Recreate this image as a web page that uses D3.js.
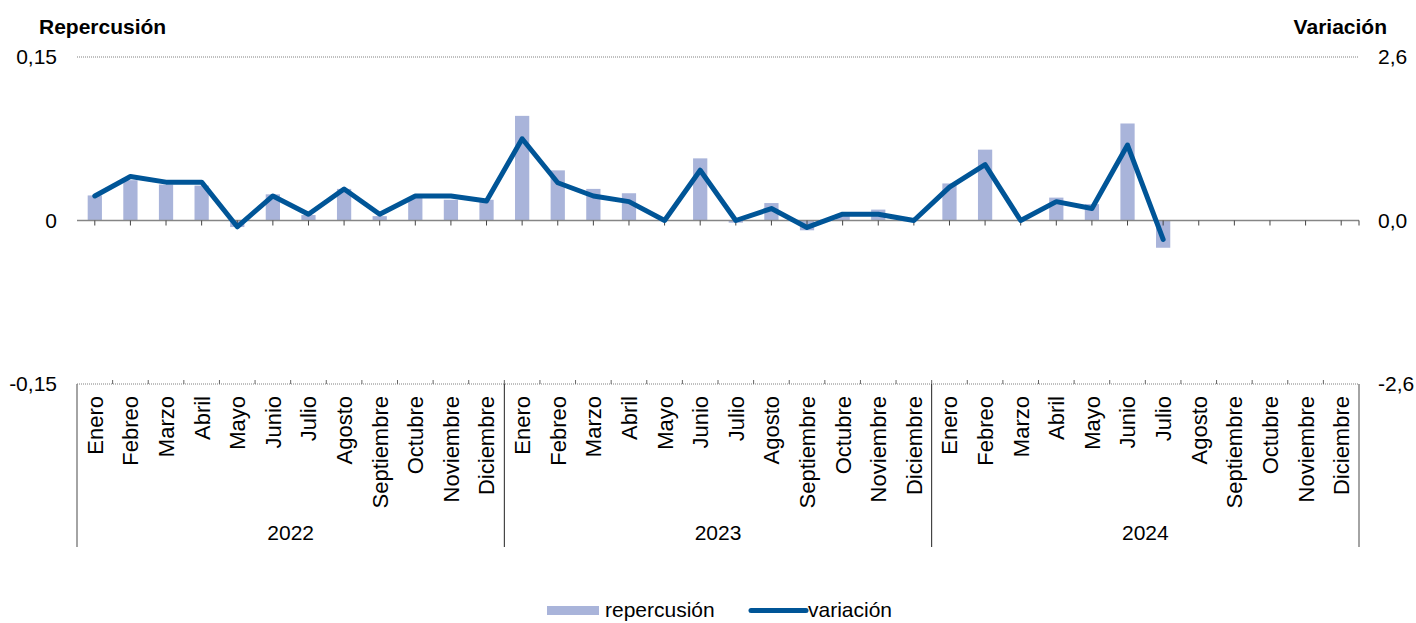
<!DOCTYPE html>
<html>
<head>
<meta charset="utf-8">
<script src="https://cdn.jsdelivr.net/npm/d3@7"></script>
<style>
  body { margin: 0; background: #fff; }
  text { font-family: "Liberation Sans", Arial, sans-serif; fill: #000; }
</style>
</head>
<body>
<script>
// months and years of the category axis
let months = ["Enero", "Febreo", "Marzo", "Abril", "Mayo", "Junio", "Julio", "Agosto",
              "Septiembre", "Octubre", "Noviembre", "Diciembre"];
let years = ["2022", "2023", "2024"];

// repercusión (left axis), one per month, null where there is no data yet
let repercusion = [
  0.023, 0.037, 0.033, 0.032, -0.006, 0.024, 0.005, 0.029, 0.004, 0.021, 0.019, 0.019,
  0.096, 0.046, 0.029, 0.025, 0.000, 0.057, -0.002, 0.016, -0.009, 0.006, 0.010, 0.000,
  0.034, 0.065, 0.000, 0.021, 0.015, 0.089, -0.025, null, null, null, null, null
];
// variación (right axis)
let variacion = [
  0.39, 0.70, 0.61, 0.61, -0.10, 0.39, 0.10, 0.50, 0.10, 0.39, 0.39, 0.31,
  1.30, 0.60, 0.39, 0.30, 0.00, 0.80, 0.00, 0.19, -0.11, 0.10, 0.10, 0.00,
  0.53, 0.89, 0.00, 0.30, 0.19, 1.20, -0.30, null, null, null, null, null
];

let leftTicks = [-0.15, 0, 0.15];
let rightTicks = [-2.6, 0, 2.6];

let canvasW = 1416;
let canvasH = 623;
let x0 = 77, x1 = 1359;
let yTop = 57, yBot = 384;

let barColor = "#a9b4da";
let lineColor = "#005597";
let axisGray = "#868686";

let svg = d3.select("body").append("svg")
  .attr("width", canvasW)
  .attr("height", canvasH);

let cats = [];
years.forEach(y => months.forEach(m => cats.push({ year: y, month: m })));
let idx = d3.range(cats.length);

let x = d3.scaleBand()
  .domain(idx)
  .range([x0, x1])
  .paddingInner(0.6)
  .paddingOuter(0.3);
let step = x.step();
let cx = i => x(i) + x.bandwidth() / 2;

let yL = d3.scaleLinear().domain([-0.15, 0.15]).range([yBot, yTop]);
let yR = d3.scaleLinear().domain([-2.6, 2.6]).range([yBot, yTop]);

let es = d3.formatLocale({ decimal: ",", thousands: ".", grouping: [3], currency: ["", "€"], minus: "-" });

// dotted gridlines top and bottom
svg.selectAll(".grid")
  .data(leftTicks.filter(d => d != 0))
  .enter().append("line")
    .attr("x1", x0).attr("x2", x1)
    .attr("y1", d => yL(d)).attr("y2", d => yL(d))
    .attr("stroke", "#808080")
    .attr("stroke-width", 1)
    .attr("stroke-dasharray", "1,1");

// left axis labels
svg.append("g")
  .attr("transform", `translate(${x0},0)`)
  .call(d3.axisLeft(yL).tickValues(leftTicks).tickSize(0).tickPadding(20)
    .tickFormat(d => d == 0 ? "0" : es.format(".2f")(d)))
  .call(g => g.select(".domain").remove())
  .selectAll("text")
    .attr("font-size", "21px")
    .attr("font-family", "Liberation Sans, Arial, sans-serif");

// right axis labels
svg.append("g")
  .attr("transform", `translate(${x1},0)`)
  .call(d3.axisRight(yR).tickValues(rightTicks).tickSize(0).tickPadding(19)
    .tickFormat(d => es.format(".1f")(d)))
  .call(g => g.select(".domain").remove())
  .selectAll("text")
    .attr("font-size", "21px")
    .attr("font-family", "Liberation Sans, Arial, sans-serif");

// axis titles
svg.append("text")
  .attr("x", 39).attr("y", 34)
  .attr("font-size", "21px").attr("font-weight", "bold")
  .text("Repercusión");
svg.append("text")
  .attr("x", 1387).attr("y", 34)
  .attr("text-anchor", "end")
  .attr("font-size", "21px").attr("font-weight", "bold")
  .text("Variación");

// bars
svg.selectAll(".bar")
  .data(idx.filter(i => repercusion[i] != null))
  .enter().append("rect")
    .attr("fill", barColor)
    .attr("x", i => x(i))
    .attr("width", x.bandwidth())
    .attr("y", i => Math.min(yL(repercusion[i]), yL(0)))
    .attr("height", i => Math.abs(yL(repercusion[i]) - yL(0)));

// zero axis line with ticks at category centres
let y0 = yL(0);
svg.append("line")
  .attr("x1", x0).attr("x2", x1)
  .attr("y1", y0).attr("y2", y0)
  .attr("stroke", axisGray).attr("stroke-width", 1.5);
svg.selectAll(".ztick")
  .data(idx.map(cx).concat([x1]))
  .enter().append("line")
    .attr("x1", d => d).attr("x2", d => d)
    .attr("y1", y0).attr("y2", y0 + 5)
    .attr("stroke", "#444").attr("stroke-width", 1);

// line
let line = d3.line()
  .defined(i => variacion[i] != null)
  .x(i => cx(i))
  .y(i => yR(variacion[i]));
svg.append("path")
  .datum(idx)
  .attr("d", line)
  .attr("fill", "none")
  .attr("stroke", lineColor)
  .attr("stroke-width", 5)
  .attr("stroke-linejoin", "round")
  .attr("stroke-linecap", "round");

// bottom category axis: ticks at category boundaries
svg.selectAll(".btick")
  .data(d3.range(1, cats.length))
  .enter().append("line")
    .attr("x1", i => x0 + i * step).attr("x2", i => x0 + i * step)
    .attr("y1", yBot).attr("y2", yBot - 4)
    .attr("stroke", "#666").attr("stroke-width", 1);

// year separators
svg.selectAll(".ysep")
  .data(d3.range(years.length + 1))
  .enter().append("line")
    .attr("x1", k => x0 + k * months.length * step)
    .attr("x2", k => x0 + k * months.length * step)
    .attr("y1", yBot).attr("y2", 547)
    .attr("stroke", k => (k == 0 || k == years.length) ? axisGray : "#222")
    .attr("stroke-width", k => (k == 0 || k == years.length) ? 1.5 : 1);

// month labels
svg.selectAll(".mlab")
  .data(idx)
  .enter().append("text")
    .attr("transform", i => `translate(${cx(i)},${yBot + 12}) rotate(-90)`)
    .attr("dy", "0.36em")
    .attr("text-anchor", "end")
    .attr("font-size", "22px")
    .text(i => cats[i].month);

// year labels
svg.selectAll(".ylab")
  .data(years)
  .enter().append("text")
    .attr("x", (d, k) => x0 + (k + 0.5) * months.length * step)
    .attr("y", 540)
    .attr("text-anchor", "middle")
    .attr("font-size", "21px")
    .text(d => d);

// legend
svg.append("rect")
  .attr("x", 547).attr("y", 606)
  .attr("width", 52).attr("height", 9)
  .attr("fill", barColor);
svg.append("text")
  .attr("x", 605).attr("y", 617)
  .attr("font-size", "21px")
  .text("repercusión");
svg.append("line")
  .attr("x1", 751).attr("x2", 806)
  .attr("y1", 610.5).attr("y2", 610.5)
  .attr("stroke", lineColor).attr("stroke-width", 5)
  .attr("stroke-linecap", "round");
svg.append("text")
  .attr("x", 808).attr("y", 617)
  .attr("font-size", "21px")
  .text("variación");
</script>
</body>
</html>
